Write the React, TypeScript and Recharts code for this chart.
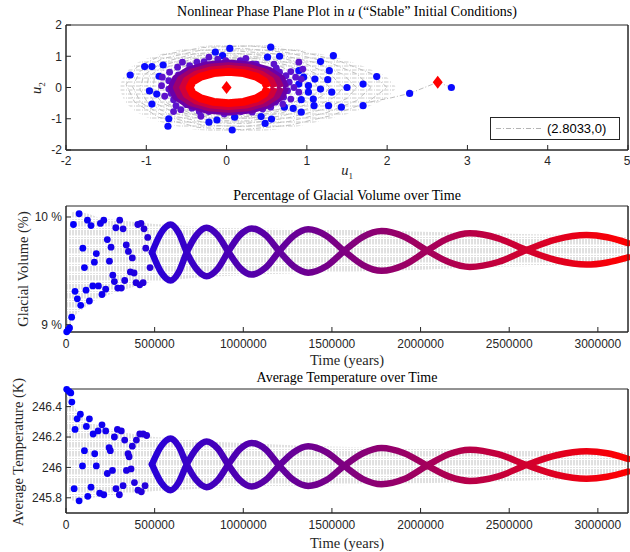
import React from "react";
import { ComposedChart, XAxis, YAxis, Area, Line, Scatter, ReferenceArea } from "recharts";

const SANS = '"Liberation Sans", Arial, sans-serif';
const SERIF = '"Liberation Serif", "Times New Roman", serif';
const INK = "#262626";

// ---------- phase plane (u1, u2) ----------
const u1Ticks = [-2, -1, 0, 1, 2, 3, 4, 5];
const u2Ticks = [-2, -1, 0, 1, 2];

// gray spiral region (outline of the trajectory)
const tearX = [-1.32, -1.28, -1.2, -1.0, -0.8, -0.5, -0.2, 0.1, 0.4, 0.7, 1.0, 1.3, 1.6, 1.85, 2.0, 2.1];
const tearLo = [-0.1, -0.38, -0.62, -0.94, -1.12, -1.3, -1.39, -1.42, -1.4, -1.32, -1.18, -0.99, -0.77, -0.52, -0.33, -0.05];
const tearHi = [0.1, 0.38, 0.62, 0.92, 1.08, 1.25, 1.35, 1.39, 1.38, 1.3, 1.17, 1.0, 0.78, 0.52, 0.32, 0.05];

// empty centre of the limit cycle
const holeX = [-0.42, -0.4, -0.35, -0.25, -0.1, 0.03, 0.15, 0.3, 0.4, 0.45, 0.47];
const holeHi = [0, 0.12, 0.21, 0.29, 0.34, 0.36, 0.35, 0.3, 0.22, 0.14, 0];

const grayLoops = [
  [[2.0, 0], [1.8, 0.45], [1.4, 0.85], [0.9, 1.17], [0.3, 1.33], [-0.3, 1.28], [-0.8, 1.04], [-1.12, 0.65], [-1.25, 0.1], [-1.15, -0.45], [-0.85, -0.95], [-0.35, -1.28], [0.2, -1.35], [0.8, -1.2], [1.3, -0.9], [1.75, -0.48], [2.0, 0]],
  [[1.8, 0], [1.62, 0.44], [1.25, 0.83], [0.75, 1.12], [0.2, 1.25], [-0.35, 1.18], [-0.8, 0.92], [-1.08, 0.52], [-1.17, 0.02], [-1.07, -0.48], [-0.77, -0.93], [-0.3, -1.2], [0.22, -1.25], [0.77, -1.09], [1.25, -0.8], [1.62, -0.42], [1.8, 0]],
  [[1.62, 0], [1.45, 0.42], [1.1, 0.8], [0.6, 1.08], [0.1, 1.17], [-0.4, 1.08], [-0.8, 0.8], [-1.03, 0.4], [-1.08, -0.05], [-0.98, -0.5], [-0.68, -0.9], [-0.25, -1.13], [0.25, -1.15], [0.75, -0.98], [1.2, -0.7], [1.5, -0.35], [1.62, 0]],
  [[1.45, 0], [1.3, 0.41], [0.97, 0.78], [0.52, 1.02], [0.05, 1.1], [-0.41, 1.0], [-0.77, 0.72], [-0.97, 0.35], [-1.0, -0.07], [-0.89, -0.5], [-0.6, -0.86], [-0.18, -1.06], [0.27, -1.07], [0.72, -0.89], [1.11, -0.61], [1.36, -0.29], [1.45, 0]],
  [[1.28, 0], [1.15, 0.4], [0.85, 0.75], [0.45, 0.97], [0.0, 1.02], [-0.42, 0.92], [-0.74, 0.65], [-0.9, 0.3], [-0.92, -0.1], [-0.8, -0.5], [-0.52, -0.82], [-0.12, -1.0], [0.3, -0.98], [0.7, -0.8], [1.02, -0.52], [1.22, -0.22], [1.28, 0]],
  [[1.14, 0], [1.03, 0.4], [0.75, 0.72], [0.38, 0.92], [-0.02, 0.96], [-0.41, 0.86], [-0.7, 0.6], [-0.84, 0.25], [-0.85, -0.15], [-0.73, -0.52], [-0.46, -0.81], [-0.08, -0.95], [0.3, -0.93], [0.68, -0.75], [0.96, -0.46], [1.11, -0.2], [1.14, 0]],
  [[1.0, 0], [0.9, 0.4], [0.65, 0.7], [0.3, 0.88], [-0.05, 0.9], [-0.4, 0.8], [-0.65, 0.55], [-0.78, 0.2], [-0.78, -0.2], [-0.65, -0.55], [-0.4, -0.8], [-0.05, -0.9], [0.3, -0.88], [0.65, -0.7], [0.9, -0.4], [1.0, 0]],
];
const tail = [[2.8, 0], [2.63, 0.17], [2.28, -0.19], [2.05, -0.33], [1.75, -0.48]];

// limit-cycle rings, outermost first
const ringColors = ["#6a00a8", "#9c0070", "#d0003a", "#ff0000"];
const ringWidths = [6, 7, 7, 8];
const rings = [
  [[0.745, 0], [0.69, 0.306], [0.534, 0.566], [0.301, 0.739], [0.025, 0.8], [-0.251, 0.739], [-0.484, 0.566], [-0.64, 0.306], [-0.695, 0], [-0.64, -0.306], [-0.484, -0.566], [-0.251, -0.739], [0.025, -0.8], [0.301, -0.739], [0.534, -0.566], [0.69, -0.306], [0.745, 0]],
  [[0.675, 0], [0.626, 0.268], [0.485, 0.495], [0.274, 0.647], [0.025, 0.7], [-0.224, 0.647], [-0.435, 0.495], [-0.576, 0.268], [-0.625, 0], [-0.576, -0.268], [-0.435, -0.495], [-0.224, -0.647], [0.025, -0.7], [0.274, -0.647], [0.485, -0.495], [0.626, -0.268], [0.675, 0]],
  [[0.595, 0], [0.552, 0.234], [0.428, 0.431], [0.243, 0.564], [0.025, 0.61], [-0.193, 0.564], [-0.378, 0.431], [-0.502, 0.234], [-0.545, 0], [-0.502, -0.234], [-0.378, -0.431], [-0.193, -0.564], [0.025, -0.61], [0.243, -0.564], [0.428, -0.431], [0.552, -0.234], [0.595, 0]],
  [[0.51, 0], [0.473, 0.19], [0.368, 0.35], [0.211, 0.46], [0.025, 0.5], [-0.161, 0.46], [-0.318, 0.35], [-0.423, 0.19], [-0.46, 0], [-0.423, -0.19], [-0.318, -0.35], [-0.161, -0.46], [0.025, -0.5], [0.211, -0.46], [0.368, -0.35], [0.473, -0.19], [0.51, 0]],
];

const blueDots = [
  [-1.2, 0.4], [-1.02, 0.67], [-0.93, 0.67], [-0.79, 0.72], [-0.84, 0.36], [-0.96, -0.11], [-0.87, -0.21], [-0.93, -0.53], [-0.72, -1.0], [-0.73, -1.24],
  [-0.14, 1.13], [0.04, 1.25], [-0.05, 1.02], [-0.22, -1.11], [-0.12, -1.04], [0.07, -1.36], [0.1, -0.95], [0.55, 1.29], [0.51, 0.97], [0.66, 1.0],
  [1.33, 1.02], [1.17, 0.83], [1.28, 0.54], [1.26, 0.25], [1.1, 0.27], [1.87, 0.35], [1.7, 0.11], [1.5, 0.0], [1.31, -0.15], [1.17, -0.05],
  [1.08, -0.37], [1.09, -0.58], [1.27, -0.58], [1.43, -0.63], [1.7, -0.58], [2.28, -0.19], [2.8, 0.0], [0.93, -0.79], [0.83, -0.67], [0.72, -0.63],
  [0.56, -1.01], [0.48, -1.15], [0.43, -0.93], [0.9, 0.54], [0.96, 0.33], [1.02, 0.06], [1.02, -0.15], [0.93, -0.39], [0.9, 0.11],
];
const purpleDots = [
  [-0.72, 0.22], [-0.81, 0.06], [-0.72, -0.05], [-0.69, -0.19], [-0.77, -0.28], [-0.66, -0.39], [-0.63, -0.58], [-0.66, -0.77], [-0.57, -0.71], [-0.43, -0.66],
  [-0.34, -0.77], [-0.32, -0.92], [-0.22, -0.77], [-0.13, -0.69], [-0.03, -0.85], [0.18, -0.77], [-0.55, 0.81], [-0.46, 0.7], [-0.37, 0.81], [-0.28, 0.83],
  [-0.22, 0.97], [-0.11, 0.91], [-0.01, 0.86], [0.07, 0.75], [0.17, 0.86], [0.24, 0.93], [0.32, 0.75], [-0.71, 0.49], [-0.61, 0.65], [-0.8, 0.33],
  [0.37, 0.75], [0.45, 0.59], [0.59, 0.75], [0.53, 0.49], [0.66, 0.49], [0.74, 0.38], [0.8, 0.51], [0.78, 0.17], [0.84, 0.0], [0.9, -0.15],
  [0.76, -0.1], [0.71, -0.31], [0.8, -0.37], [0.7, -0.53], [0.61, -0.47], [0.55, -0.63], [0.45, -0.69], [0.37, -0.58], [0.32, -0.79], [0.86, 0.33],
  [0.93, 0.27], [0.95, 0.59], [0.9, 0.81], [0.08, -0.62], [0.28, -0.66], [-0.5, -0.55], [-0.6, 0.4], [0.62, 0.62],
];
const equilibria = [[0, 0], [2.63, 0.17]];

// ---------- time series ----------
const timeTicks = [0, 500000, 1000000, 1500000, 2000000, 2500000, 3000000];

const volDotT = [4000, 12000, 20000, 32000, 42000, 51000, 64000, 74000, 83000, 95000, 104000, 113000, 121000, 132000, 141000, 151000, 160000, 171000, 183000, 194000, 203000, 213000, 224000, 233000, 245000, 254000, 264000, 273000, 281000, 292000, 303000, 312000, 322000, 331000, 340000, 352000, 363000, 374000, 384000, 395000, 405000, 416000, 423000, 435000, 440000, 450000, 461000, 474000];
const volDotV = [8.934, 8.95, 8.97, 9.07, 9.93, 9.31, 9.24, 10.03, 9.18, 9.71, 9.53, 9.32, 9.97, 9.22, 9.92, 9.36, 9.58, 9.66, 9.36, 9.94, 9.28, 9.97, 9.33, 9.79, 9.59, 9.72, 9.46, 9.4, 9.9, 9.34, 9.97, 9.34, 9.89, 9.41, 9.74, 9.68, 9.49, 9.62, 9.48, 9.39, 9.93, 9.37, 9.94, 9.39, 9.89, 9.71, 9.81, 9.53];

const branchT = [485000, 537000, 590000, 635000, 681000, 737000, 793000, 854000, 915000, 981000, 1047000, 1125000, 1203000, 1285000, 1366000, 1468000, 1569000, 1675000, 1780000, 1908000, 2037000, 2158000, 2278000, 2438000, 2597000, 2767000, 2936000, 3053000, 3170000];
const volA = [9.67, 9.854, 9.93, 9.854, 9.672, 9.516, 9.45, 9.516, 9.678, 9.832, 9.894, 9.832, 9.682, 9.542, 9.483, 9.542, 9.684, 9.816, 9.869, 9.816, 9.688, 9.582, 9.536, 9.582, 9.693, 9.792, 9.832, 9.812, 9.758];
const volB = [9.67, 9.486, 9.41, 9.486, 9.672, 9.834, 9.9, 9.834, 9.678, 9.528, 9.465, 9.528, 9.682, 9.826, 9.885, 9.826, 9.684, 9.554, 9.5, 9.554, 9.688, 9.802, 9.848, 9.802, 9.693, 9.598, 9.558, 9.578, 9.625];

const bandT = [0, 20000, 40000, 100000, 200000, 300000, 400000, 500000, 600000, 800000, 1000000, 1300000, 1600000, 2000000, 2400000, 2800000, 3170000];
const volBandLo = [8.932, 8.97, 9.05, 9.15, 9.25, 9.31, 9.36, 9.4, 9.415, 9.445, 9.46, 9.478, 9.49, 9.51, 9.535, 9.55, 9.565];
const volBandHi = [8.95, 9.9, 10.05, 10.04, 9.99, 9.97, 9.95, 9.935, 9.925, 9.905, 9.895, 9.887, 9.878, 9.862, 9.848, 9.835, 9.826];

const tempDotT = [4000, 17000, 27000, 33000, 46000, 51000, 63000, 74000, 81000, 93000, 104000, 115000, 123000, 132000, 141000, 153000, 162000, 171000, 181000, 190000, 203000, 213000, 224000, 233000, 243000, 250000, 262000, 273000, 282000, 290000, 301000, 312000, 322000, 331000, 341000, 350000, 356000, 367000, 374000, 386000, 397000, 406000, 416000, 425000, 435000, 446000, 455000];
const tempDotV = [246.514, 246.5, 246.49, 246.43, 245.86, 246.25, 246.32, 245.78, 246.35, 246.01, 246.11, 246.27, 245.81, 246.32, 245.87, 246.22, 246.09, 246.01, 246.24, 245.83, 246.28, 245.82, 246.24, 245.96, 246.13, 246.11, 245.98, 246.2, 245.86, 246.25, 245.82, 246.24, 245.88, 246.18, 245.98, 246.09, 246.07, 245.99, 246.14, 245.9, 246.18, 245.85, 246.22, 245.84, 246.22, 245.88, 246.21];
const tempA = [246.02, 246.14, 246.19, 246.14, 246.02, 245.914, 245.87, 245.914, 246.018, 246.12, 246.161, 246.12, 246.012, 245.916, 245.878, 245.916, 246.01, 246.093, 246.128, 246.093, 246.012, 245.941, 245.911, 245.941, 246.016, 246.08, 246.106, 246.093, 246.056];
const tempB = [246.02, 245.9, 245.85, 245.9, 246.02, 246.126, 246.17, 246.126, 246.018, 245.916, 245.874, 245.916, 246.012, 246.1, 246.139, 246.1, 246.01, 245.923, 245.889, 245.923, 246.012, 246.087, 246.117, 246.087, 246.016, 245.952, 245.926, 245.939, 245.972];
const tempBandLo = [246.0, 245.82, 245.78, 245.79, 245.81, 245.82, 245.835, 245.845, 245.85, 245.865, 245.873, 245.88, 245.885, 245.895, 245.908, 245.92, 245.928];
const tempBandHi = [246.52, 246.5, 246.42, 246.33, 246.27, 246.24, 246.215, 246.2, 246.19, 246.17, 246.16, 246.145, 246.135, 246.125, 246.115, 246.108, 246.1];

// ---------- helpers ----------
const mergeRows = (xKey: string, sets: [number[], string, any[]][]) => {
  const m = new Map<number, any>();
  sets.forEach(([xs, key, vals]) =>
    xs.forEach((x, i) => {
      const r = m.get(x) || { [xKey]: x };
      r[key] = vals[i];
      m.set(x, r);
    })
  );
  return [...m.values()].sort((p, q) => p[xKey] - q[xKey]);
};
const zip = (a: number[], b: number[]) => a.map((v, i) => [v, b[i]]);
const toXY = (pts: number[][]) => pts.map(([x, y]) => ({ x, y }));
const toTV = (t: number[], v: number[]) => t.map((x, i) => ({ t: x, v: v[i] }));

const noDot = () => <g />;
const dot = (r: number, fill: string) => (p: any) => <circle cx={p.cx} cy={p.cy} r={r} fill={fill} />;
const diamond = (p: any) => (
  <polygon points={`${p.cx},${p.cy - 6.5} ${p.cx + 5},${p.cy} ${p.cx},${p.cy + 6.5} ${p.cx - 5},${p.cy}`} fill="#ff0000" />
);

const tickStyle = { fill: INK, fontSize: 12, fontFamily: SANS };
const noLabel = () => <g />;
const dashDot = "5 2 1 2";

const phaseRows = mergeRows("x", [
  [tearX, "tear", zip(tearLo, tearHi)],
  [holeX, "hole", zip(holeHi.map((v) => -v), holeHi)],
]);
const volRows = mergeRows("t", [
  [bandT, "band", zip(volBandLo, volBandHi)],
  [branchT, "a", volA],
  [branchT, "b", volB],
]);
const tempRows = mergeRows("t", [
  [bandT, "band", zip(tempBandLo, tempBandHi)],
  [branchT, "a", tempA],
  [branchT, "b", tempB],
]);

const Defs = ({ id }: { id: string }) => (
  <defs>
    <linearGradient id={`g${id}`} gradientUnits="userSpaceOnUse" x1="66" y1="0" x2="628" y2="0">
      <stop offset="0" stopColor="#0000ff" />
      <stop offset="1" stopColor="#ff0000" />
    </linearGradient>
    <pattern id={`p${id}`} patternUnits="userSpaceOnUse" width="3" height="9">
      <line x1="1" y1="0" x2="1" y2="5.5" stroke="#c2c2c2" strokeWidth="1" />
      <line x1="1" y1="7" x2="1" y2="8" stroke="#c2c2c2" strokeWidth="1" />
    </pattern>
    <pattern id="tearTex" patternUnits="userSpaceOnUse" width="8" height="4">
      <line x1="0" y1="2" x2="4.5" y2="2" stroke="#cacaca" strokeWidth="1" />
      <line x1="6" y1="2" x2="7" y2="2" stroke="#cacaca" strokeWidth="1" />
    </pattern>
  </defs>
);

const TimeChart = (props: {
  id: string; rows: any[]; dots: any[]; domain: number[]; ticks: number[];
  fmt: (v: number) => string; height: number; top: number; bottom: number;
}) => (
  <ComposedChart width={630} height={props.height} data={props.rows} margin={{ top: props.top, right: 2, bottom: props.bottom, left: 0 }}>
    <Defs id={props.id} />
    <XAxis dataKey="t" type="number" domain={[0, 3170000]} ticks={timeTicks} height={20} tickSize={-5} tickMargin={12} stroke={INK} tick={tickStyle} />
    <YAxis dataKey="v" type="number" domain={props.domain} ticks={props.ticks} tickFormatter={props.fmt} width={66} tickSize={-5} tickMargin={9} stroke={INK} tick={tickStyle} />
    <YAxis yAxisId="r" orientation="right" mirror type="number" domain={props.domain} ticks={props.ticks} tickSize={5} stroke={INK} tick={noLabel} />
    <ReferenceArea x1={0} x2={3170000} y1={props.domain[0]} y2={props.domain[1]} fill="none" stroke={INK} strokeWidth={1} ifOverflow="visible" />
    <Area dataKey="band" type="monotone" fill={`url(#p${props.id})`} fillOpacity={1} stroke="none" connectNulls isAnimationActive={false} />
    <Scatter data={props.dots} shape={dot(3.4, `url(#g${props.id})`)} isAnimationActive={false} />
    <Line dataKey="a" type="monotone" stroke={`url(#g${props.id})`} strokeWidth={6.5} strokeLinecap="round" dot={false} activeDot={false} connectNulls isAnimationActive={false} />
    <Line dataKey="b" type="monotone" stroke={`url(#g${props.id})`} strokeWidth={6.5} strokeLinecap="round" dot={false} activeDot={false} connectNulls isAnimationActive={false} />
  </ComposedChart>
);

const PhaseChart = () => (
  <ComposedChart width={630} height={185} data={phaseRows} margin={{ top: 25, right: 2, bottom: 15, left: 0 }}>
    <Defs id="u" />
    <XAxis dataKey="x" type="number" domain={[-2, 5]} ticks={u1Ticks} height={20} tickSize={-5} tickMargin={11} stroke={INK} tick={tickStyle} />
    <YAxis dataKey="y" type="number" domain={[-2, 2]} ticks={u2Ticks} width={66} tickSize={-5} tickMargin={9} stroke={INK} tick={tickStyle} />
    <YAxis yAxisId="r" orientation="right" mirror type="number" domain={[-2, 2]} ticks={u2Ticks} tickSize={5} stroke={INK} tick={noLabel} />
    <ReferenceArea x1={-2} x2={5} y1={-2} y2={2} fill="none" stroke={INK} strokeWidth={1} ifOverflow="visible" />
    <Area dataKey="tear" type="monotone" fill="url(#tearTex)" fillOpacity={1} stroke="none" connectNulls isAnimationActive={false} />
    <Area dataKey="hole" type="monotone" fill="#ffffff" fillOpacity={1} stroke="none" connectNulls isAnimationActive={false} />
    {grayLoops.map((lp, i) => (
      <Scatter key={`g${i}`} data={toXY(lp)} line={{ stroke: "#bfbfbf", strokeWidth: 1, strokeDasharray: dashDot }} shape={noDot} isAnimationActive={false} />
    ))}
    <Scatter data={toXY(tail)} line={{ stroke: "#bdbdbd", strokeWidth: 1, strokeDasharray: dashDot }} shape={noDot} isAnimationActive={false} />
    <Scatter data={toXY(blueDots)} shape={dot(3.6, "#0a0aff")} isAnimationActive={false} />
    <Scatter data={toXY(purpleDots)} shape={dot(3.4, "#5c12cc")} isAnimationActive={false} />
    {rings.map((lp, i) => (
      <Scatter key={`r${i}`} data={toXY(lp)} line={{ stroke: ringColors[i], strokeWidth: ringWidths[i], strokeLinejoin: "round" }} shape={noDot} isAnimationActive={false} />
    ))}
    <Scatter data={toXY(equilibria)} shape={diamond} isAnimationActive={false} />
  </ComposedChart>
);

const abs = (left: number, top: number, extra: React.CSSProperties = {}): React.CSSProperties => ({
  position: "absolute", left, top, ...extra,
});
const titleStyle = (y: number): React.CSSProperties =>
  abs(47, y - 9, { width: 600, textAlign: "center", fontFamily: SERIF, fontSize: 14, lineHeight: "18px", color: "#000", whiteSpace: "nowrap" });
const vLabel = (cx: number, cy: number): React.CSSProperties =>
  abs(cx - 100, cy - 9, { width: 200, textAlign: "center", fontFamily: SERIF, fontSize: 14.5, lineHeight: "18px", color: INK, transform: "rotate(-90deg)", whiteSpace: "nowrap" });
const xLabel = (y: number): React.CSSProperties =>
  abs(247, y - 9, { width: 200, textAlign: "center", fontFamily: SERIF, fontSize: 14.5, lineHeight: "18px", color: INK });

export default function App() {
  return (
    <div style={abs(0, 0, { width: 630, height: 552, background: "#fff", overflow: "hidden" })}>
      <div style={abs(0, 0)}><PhaseChart /></div>
      <div style={abs(0, 185)}>
        <TimeChart id="v" rows={volRows} dots={toTV(volDotT, volDotV)} domain={[8.932, 10.102]} ticks={[9, 10]} fmt={(v) => `${v} %`} height={180} top={21} bottom={13} />
      </div>
      <div style={abs(0, 370)}>
        <TimeChart id="k" rows={tempRows} dots={toTV(tempDotT, tempDotV)} domain={[245.7, 246.516]} ticks={[245.8, 246, 246.2, 246.4]} fmt={(v) => `${v}`} height={182} top={19} bottom={19} />
      </div>

      <div style={titleStyle(12)}>Nonlinear Phase Plane Plot in <i>u</i> (“Stable” Initial Conditions)</div>
      <div style={titleStyle(196)}>Percentage of Glacial Volume over Time</div>
      <div style={titleStyle(378)}>Average Temperature over Time</div>

      <div style={xLabel(170)}><i>u</i><sub style={{ fontSize: 9, lineHeight: 0 }}>1</sub></div>
      <div style={vLabel(36, 88)}><i>u</i><sub style={{ fontSize: 9, lineHeight: 0 }}>2</sub></div>
      <div style={vLabel(23, 269)}>Glacial Volume (%)</div>
      <div style={vLabel(18, 452)}>Average Temperature (K)</div>
      <div style={xLabel(360)}>Time (years)</div>
      <div style={xLabel(543)}>Time (years)</div>

      <div style={abs(490, 117, { width: 128, height: 21, border: `1px solid ${INK}`, background: "#fff" })}>
        <svg width="52" height="21" style={{ position: "absolute", left: 0, top: 0 }}>
          <line x1="5" y1="10.5" x2="50" y2="10.5" stroke="#b4b4b4" strokeWidth="1" strokeDasharray={dashDot} />
        </svg>
        <span style={abs(56, 2, { fontFamily: SANS, fontSize: 13, color: "#000", lineHeight: "17px" })}>(2.8033,0)</span>
      </div>
    </div>
  );
}
